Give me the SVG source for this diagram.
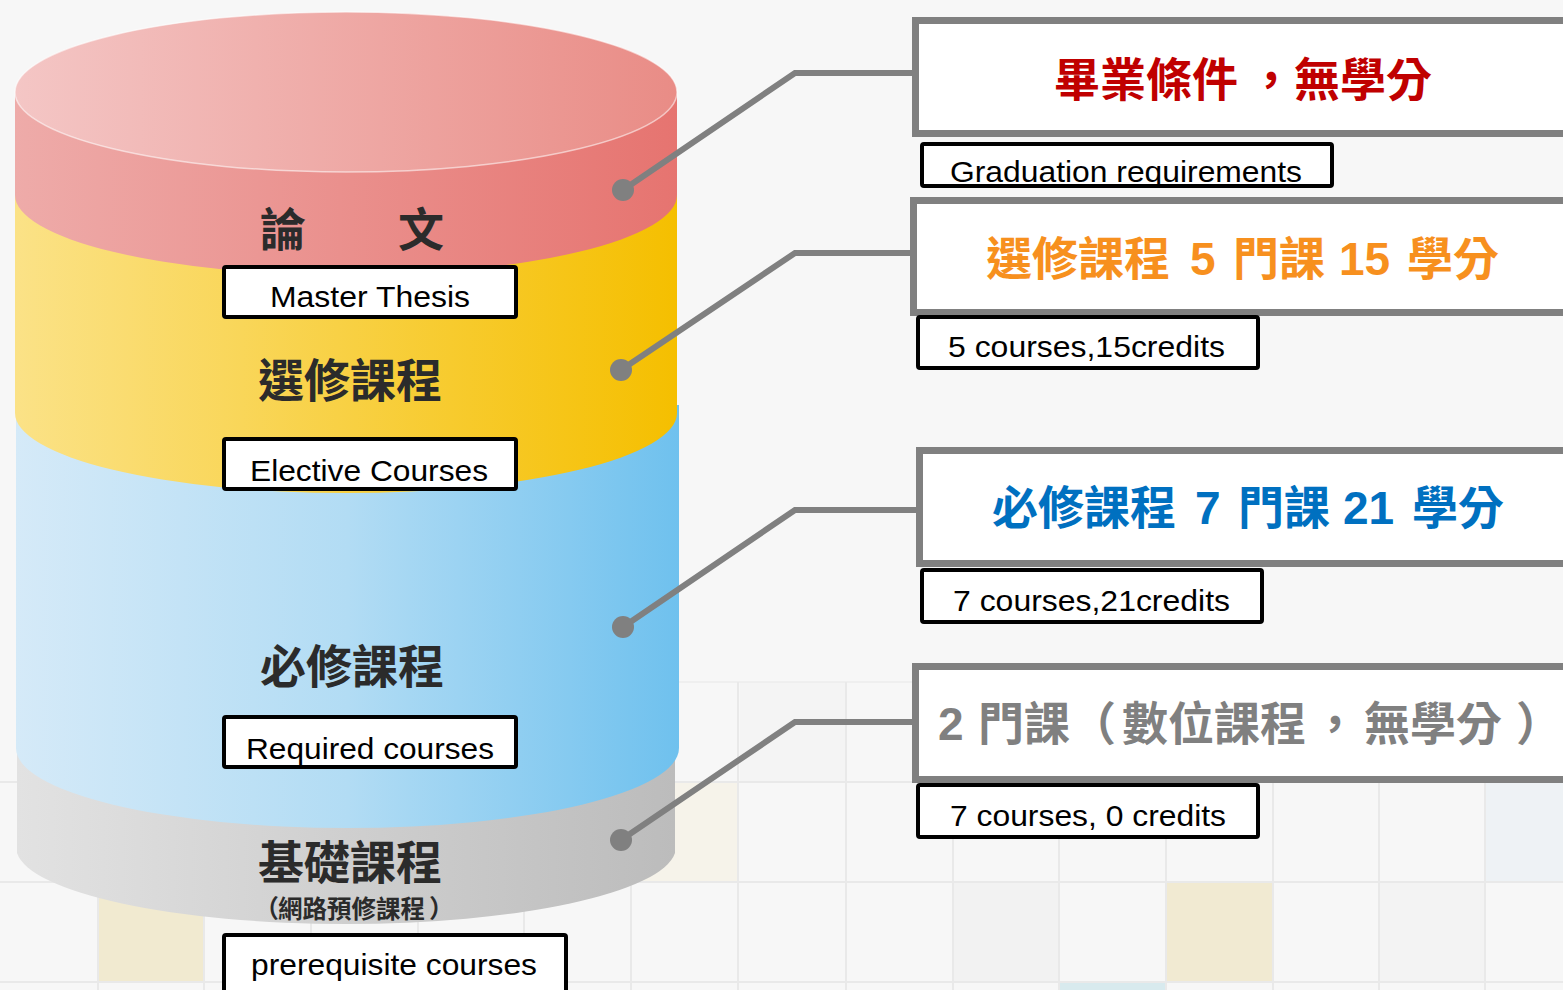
<svg xmlns="http://www.w3.org/2000/svg" width="1563" height="990" viewBox="0 0 1563 990">
<style>
.lbl{fill:#fff;stroke:#000;stroke-width:4}
.hdr{fill:#fff;stroke:#808080;stroke-width:7}
.en{font-family:"Liberation Sans",Arial,sans-serif;font-size:30px;fill:#000}
.cj{font-family:"Noto Sans CJK TC","Noto Sans CJK SC",sans-serif;font-weight:bold;fill:#2b2b2b}
.hd{font-family:"Liberation Sans","Noto Sans CJK TC",sans-serif;font-weight:bold;font-size:46px}
.conn{stroke:#808080;stroke-width:6;fill:none;stroke-linejoin:miter}
.dot{fill:#808080}
.gl{stroke:#e9e9e9;stroke-width:2;fill:none}
</style>
<defs>
<linearGradient id="gTop"><stop offset="0" stop-color="#f4c6c5"/><stop offset="1" stop-color="#e98c86"/></linearGradient>
<linearGradient id="gRed"><stop offset="0" stop-color="#eeaba9"/><stop offset="1" stop-color="#e67470"/></linearGradient>
<linearGradient id="gYel"><stop offset="0" stop-color="#fbe287"/><stop offset="1" stop-color="#f5bf00"/></linearGradient>
<linearGradient id="gBlu"><stop offset="0" stop-color="#d5eaf8"/><stop offset="0.5" stop-color="#b2dcf4"/><stop offset="1" stop-color="#6fc1ee"/></linearGradient>
<linearGradient id="gGry"><stop offset="0" stop-color="#e2e2e2"/><stop offset="1" stop-color="#bcbcbc"/></linearGradient>
</defs>

<rect x="0" y="0" width="1563" height="990" fill="#f7f7f7"/>

<g id="background-tiles">
<rect x="740" y="682" width="107" height="100" fill="#f4f4f4"/>
<rect x="631" y="782" width="107" height="100" fill="#f6f3ea"/>
<rect x="1485" y="782" width="80" height="100" fill="#eef2f5"/>
<rect x="98" y="882" width="107" height="100" fill="#f1ead0"/>
<rect x="1166" y="882" width="107" height="100" fill="#f1ead2"/>
<rect x="953" y="882" width="107" height="100" fill="#f2f2f2"/>
<rect x="1379" y="882" width="106" height="100" fill="#f3f3f3"/>
<rect x="1059" y="982" width="107" height="10" fill="#d8eaee"/>
<path class="gl" d="M0,782H1563M0,882H1563M0,982H1563"/>
<path class="gl" stroke-opacity="0.6" d="M631,682H1563"/>
<path class="gl" d="M98,782V990M204,782V990M311,882V990M418,882V990M524,882V990M631,682V990M738,682V990M846,682V990M953,682V990M1059,682V990M1166,682V990M1273,682V990M1379,682V990M1485,682V990"/>
</g>

<g id="cylinder">
<path id="seg-grey" d="M17,740 L17,853 A330,77 0 0 0 675,853 L675,740 Z" fill="url(#gGry)"/>
<path id="seg-blue" d="M16,405 L16,748 A331,80 0 0 0 679,748 L679,405 Z" fill="url(#gBlu)"/>
<path id="seg-yellow" d="M15,190 L15,413 A331,80 0 0 0 677,413 L677,190 Z" fill="url(#gYel)"/>
<path id="seg-red" d="M15,92 L15,195 A331,80 0 0 0 677,195 L677,92 Z" fill="url(#gRed)"/>
<ellipse id="top" cx="346" cy="92" rx="331" ry="80" fill="url(#gTop)" stroke="#ffffff" stroke-opacity="0.55" stroke-width="1.5"/>
</g>

<g id="connectors">
<polyline class="conn" points="623,190 795,73 916,73"/>
<circle class="dot" cx="623" cy="190" r="11"/>
<polyline class="conn" points="621,370 795,253 912,253"/>
<circle class="dot" cx="621" cy="370" r="11"/>
<polyline class="conn" points="623,627 795,510 918,510"/>
<circle class="dot" cx="623" cy="627" r="11"/>
<polyline class="conn" points="621,840 795,722 913,722"/>
<circle class="dot" cx="621" cy="840" r="11"/>
</g>

<g id="thesis">
<text class="cj" x="260" y="246" font-size="46">論　　文</text>
<rect class="lbl" x="224" y="267" width="292" height="50" rx="2"/>
<text class="en" x="270" y="307" textLength="200" lengthAdjust="spacingAndGlyphs">Master Thesis</text>
</g>

<g id="elective">
<text class="cj" x="258" y="397" font-size="46">選修課程</text>
<rect class="lbl" x="224" y="439" width="292" height="50" rx="2"/>
<text class="en" x="250" y="481" textLength="238" lengthAdjust="spacingAndGlyphs">Elective Courses</text>
</g>

<g id="required">
<text class="cj" x="260" y="683" font-size="46">必修課程</text>
<rect class="lbl" x="224" y="717" width="292" height="50" rx="2"/>
<text class="en" x="246" y="759" textLength="248" lengthAdjust="spacingAndGlyphs">Required courses</text>
</g>

<g id="prerequisite">
<text class="cj" x="258" y="879" font-size="46">基礎課程</text>
<text class="cj" y="918" font-size="25" fill="#444"><tspan x="254">（</tspan><tspan x="278" textLength="147" lengthAdjust="spacingAndGlyphs">網路預修課程</tspan><tspan x="429">）</tspan></text>
<rect class="lbl" x="224" y="935" width="342" height="70" rx="2"/>
<text class="en" x="251" y="975" textLength="286" lengthAdjust="spacingAndGlyphs">prerequisite courses</text>
</g>

<g id="box-graduation">
<rect class="hdr" x="915.5" y="20.5" width="700" height="113"/>
<text class="hd" y="96" fill="#c00000"><tspan x="1054">畢業條件</tspan><tspan x="1248">，</tspan><tspan x="1294">無學分</tspan></text>
<rect class="lbl" x="922" y="144" width="410" height="42" rx="2"/>
<text class="en" x="950" y="182" textLength="352" lengthAdjust="spacingAndGlyphs">Graduation requirements</text>
</g>

<g id="box-elective">
<rect class="hdr" x="913.5" y="200.5" width="700" height="112"/>
<text class="hd" y="275" fill="#f7901e"><tspan x="986">選修課程</tspan><tspan x="1190">5</tspan><tspan x="1233">門課</tspan><tspan x="1339">15</tspan><tspan x="1407">學分</tspan></text>
<rect class="lbl" x="918" y="317" width="340" height="51" rx="2"/>
<text class="en" x="948" y="357" textLength="277" lengthAdjust="spacingAndGlyphs">5 courses,15credits</text>
</g>

<g id="box-required">
<rect class="hdr" x="919.5" y="450.5" width="700" height="113"/>
<text class="hd" y="524" fill="#0070c0"><tspan x="992">必修課程</tspan><tspan x="1195">7</tspan><tspan x="1238">門課</tspan><tspan x="1343">21</tspan><tspan x="1412">學分</tspan></text>
<rect class="lbl" x="922" y="570" width="340" height="52" rx="2"/>
<text class="en" x="953" y="611" textLength="277" lengthAdjust="spacingAndGlyphs">7 courses,21credits</text>
</g>

<g id="box-prerequisite">
<rect class="hdr" x="915.5" y="666.5" width="700" height="113"/>
<text class="hd" y="740" fill="#808080"><tspan x="938">2</tspan><tspan x="978">門課（</tspan><tspan x="1122">數位課程</tspan><tspan x="1312">，</tspan><tspan x="1364">無學分</tspan><tspan x="1516">）</tspan></text>
<rect class="lbl" x="918" y="785" width="340" height="52" rx="2"/>
<text class="en" x="950" y="826" textLength="276" lengthAdjust="spacingAndGlyphs">7 courses, 0 credits</text>
</g>
</svg>
